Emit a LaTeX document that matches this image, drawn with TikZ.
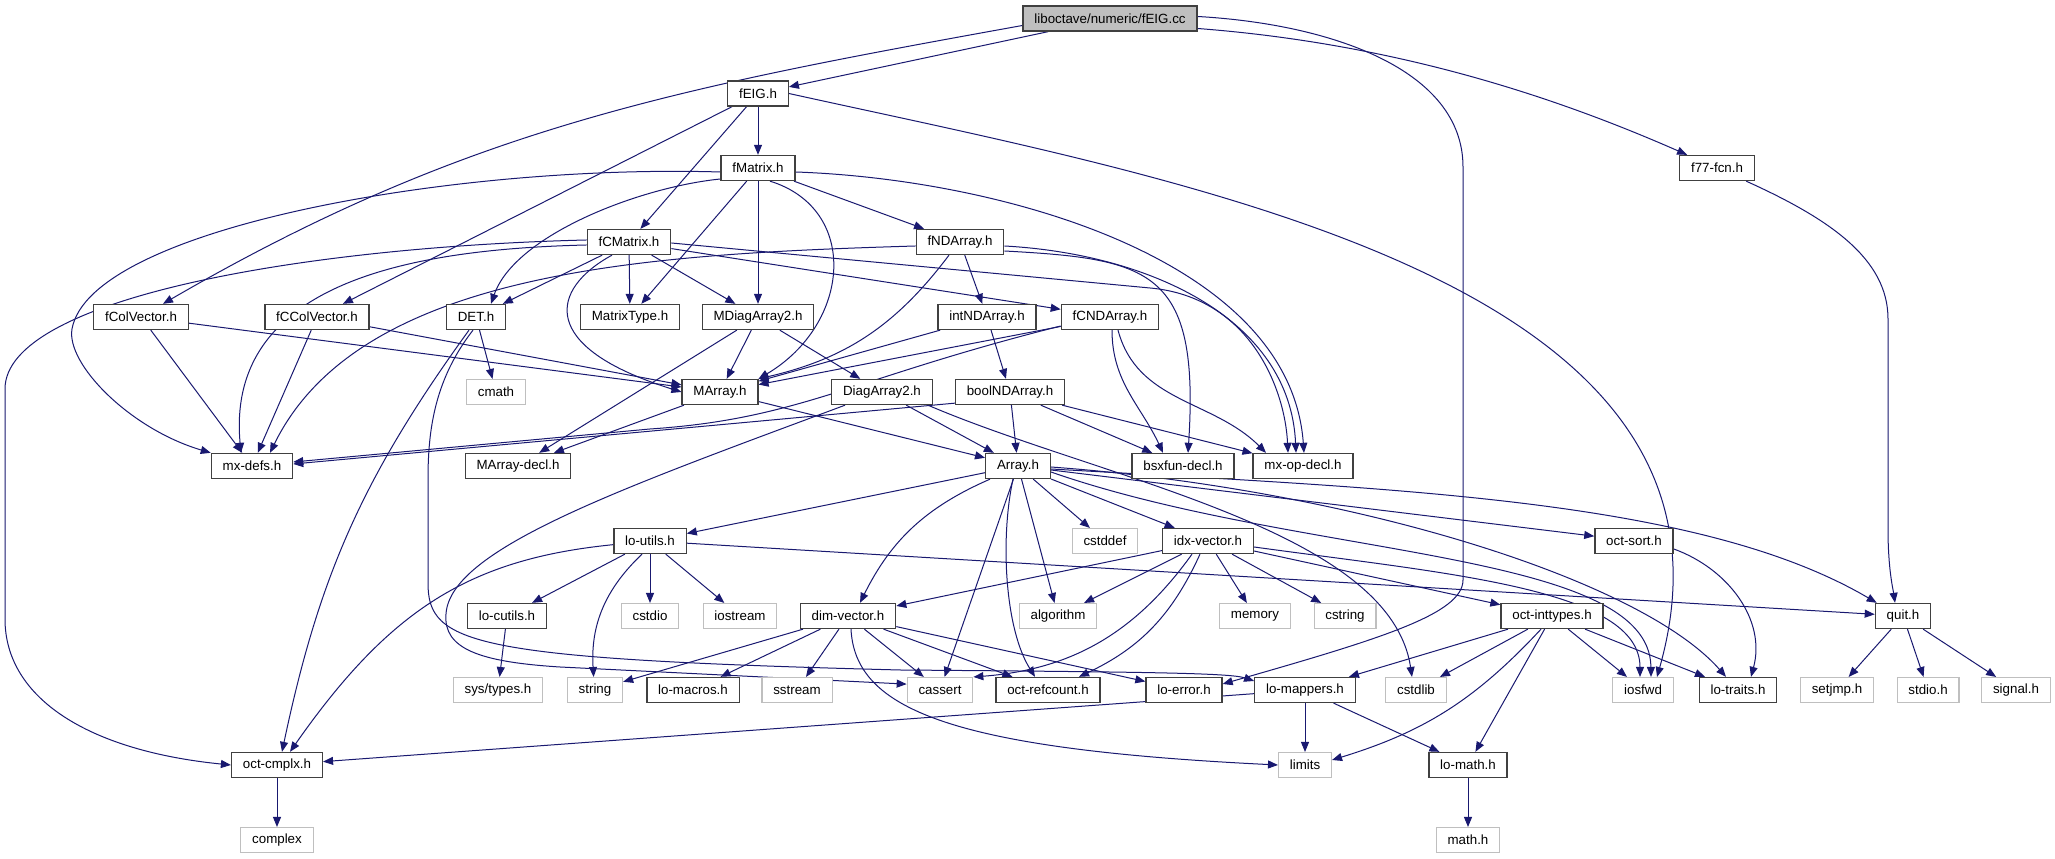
\documentclass[tikz,border=0pt]{standalone}
\usepackage{fontspec}
\setmainfont{Liberation Sans}
\usetikzlibrary{arrows.meta,backgrounds,calc}
\definecolor{edgeblue}{HTML}{191970}

\begin{document}
\begin{tikzpicture}[x=0.75pt,y=0.75pt,
  hdr/.style={draw=black!75,line width=1pt,fill=white,minimum height=18.75pt,inner xsep=8.5pt,inner ysep=0pt,font=\fontsize{10pt}{12pt}\selectfont},
  sys/.style={hdr,draw=black!25,line width=0.8pt},
  dep/.style={draw=edgeblue,line width=0.75pt,-{Triangle[length=7.5pt,width=6pt]}}]
\useasboundingbox (0,0) rectangle (2055,859);

\node[hdr,fill=black!25] (root) at (1110,840.5) {liboctave/numeric/fEIG.cc};
\node[hdr] (fEIG) at (758,765.5) {fEIG.h};
\node[hdr] (fMatrix) at (758,691) {fMatrix.h};
\node[hdr] (f77) at (1717,691) {f77-fcn.h};
\node[hdr] (fCMatrix) at (629,617) {fCMatrix.h};
\node[hdr] (fNDArray) at (960,617) {fNDArray.h};
\node[hdr] (fColVector) at (141,542) {fColVector.h};
\node[hdr] (fCColVector) at (317,542) {fCColVector.h};
\node[hdr] (DET) at (476,542) {DET.h};
\node[hdr] (MatrixType) at (630,542) {MatrixType.h};
\node[hdr] (MDiagArray2) at (758,542) {MDiagArray2.h};
\node[hdr] (intNDArray) at (987,542) {intNDArray.h};
\node[hdr] (fCNDArray) at (1110,542) {fCNDArray.h};
\node[sys] (cmath) at (496,467) {cmath};
\node[hdr] (MArray) at (720,467) {MArray.h};
\node[hdr] (DiagArray2) at (882,467) {DiagArray2.h};
\node[hdr] (boolNDArray) at (1010,467) {boolNDArray.h};
\node[hdr] (mxdefs) at (252,393) {mx-defs.h};
\node[hdr] (MArraydecl) at (518,393) {MArray-decl.h};
\node[hdr] (Array) at (1018,393) {Array.h};
\node[hdr] (bsxfun) at (1183,393) {bsxfun-decl.h};
\node[hdr] (mxopdecl) at (1303,393) {mx-op-decl.h};
\node[hdr] (loutils) at (650,318) {lo-utils.h};
\node[sys] (cstddef) at (1105,318) {cstddef};
\node[hdr] (idxvector) at (1208,318) {idx-vector.h};
\node[hdr] (octsort) at (1634,318) {oct-sort.h};
\node[hdr] (locutils) at (507,243) {lo-cutils.h};
\node[sys] (cstdio) at (650,243) {cstdio};
\node[sys] (iostream) at (740,243) {iostream};
\node[hdr] (dimvector) at (848,243) {dim-vector.h};
\node[sys] (algorithm) at (1058,243) {algorithm};
\node[sys] (memory) at (1255,243) {memory};
\node[sys] (cstring) at (1345,243) {cstring};
\node[hdr] (octinttypes) at (1552,243) {oct-inttypes.h};
\node[hdr] (quit) at (1903,243) {quit.h};
\node[sys] (systypes) at (498,169) {sys/types.h};
\node[sys] (string) at (595,169) {string};
\node[hdr] (lomacros) at (693,169) {lo-macros.h};
\node[sys] (sstream) at (797,169) {sstream};
\node[sys] (cassert) at (940,169) {cassert};
\node[hdr] (octrefcount) at (1048,169) {oct-refcount.h};
\node[hdr] (loerror) at (1184,169) {lo-error.h};
\node[hdr] (lomappers) at (1305,169) {lo-mappers.h};
\node[sys] (cstdlib) at (1416,169) {cstdlib};
\node[sys] (iosfwd) at (1643,169) {iosfwd};
\node[hdr] (lotraits) at (1738,169) {lo-traits.h};
\node[sys] (setjmp) at (1837,169) {setjmp.h};
\node[sys] (stdio) at (1928,169) {stdio.h};
\node[sys] (signal) at (2016,169) {signal.h};
\node[hdr] (octcmplx) at (277,94) {oct-cmplx.h};
\node[sys] (limits) at (1305,94) {limits};
\node[hdr] (lomath) at (1468,94) {lo-math.h};
\node[sys] (complex) at (277,19) {complex};
\node[sys] (mathh) at (1468,19) {math.h};

\begin{scope}[on background layer]
\fill[white] (0,0) rectangle (2055,859);
\draw[dep] (root) -- (fEIG);
\draw[dep] ($(root.west)+(0,-7)$) .. controls (676,771) and (466,731) .. ($(fColVector.north)+(22,0)$);
\draw[dep] ($(root.east)+(0,-10)$) .. controls (1400,815) and (1560,760) .. ($(f77.north west)+(8,0)$);
\draw[dep] ($(root.east)+(0,2)$) .. controls (1330,835) and (1463,790) .. (1463,692) -- (1463,279) .. controls (1463,245) and (1380,220) .. ($(loerror.east)+(0,6)$);
\draw[dep] (fEIG) -- (fMatrix);
\draw[dep] (fEIG) -- (fCMatrix);
\draw[dep] (fEIG) -- (fCColVector);
\draw[dep] (fEIG.east) .. controls (1190,677) and (1769,578) .. ($(iosfwd.north)+(14,0)$);
\draw[dep] (fMatrix) -- (fNDArray);
\draw[dep] (fMatrix) -- (MDiagArray2);
\draw[dep] ($(fMatrix.south)+(12,0)$) .. controls (860,650) and (851,535) .. (MArray.north east);
\draw[dep] ($(fMatrix.west)+(0,-11)$) .. controls (640,672) and (515,624) .. ($(DET.north)+(15,0)$);
\draw[dep] (fMatrix) -- (MatrixType);
\draw[dep] ($(fMatrix.west)+(0,-4)$) .. controls (450,695) and (90,630) .. (72,530) .. controls (66,495) and (130,430) .. (mxdefs.north west);
\draw[dep] ($(fMatrix.east)+(0,-4)$) .. controls (1000,680) and (1290,600) .. ($(mxopdecl.north)+(1,0)$);
\draw[dep] (fCMatrix) -- (DET);
\draw[dep] (fCMatrix) -- (MatrixType);
\draw[dep] (fCMatrix) -- (MDiagArray2);
\draw[dep] ($(fCMatrix.south)+(-17,0)$) .. controls (550,570) and (537,512) .. (MArray.west);
\draw[dep] ($(fCMatrix.west)+(0,-3)$) .. controls (420,610) and (225,580) .. ($(mxdefs.north)+(-11,0)$);
\draw[dep] ($(fCMatrix.west)+(0,2)$) .. controls (300,612) and (5,560) .. (5,470) -- (5,240) .. controls (5,160) and (90,108) .. (octcmplx.west);
\draw[dep] (fCMatrix) -- (fCNDArray);
\draw[dep] ($(fCMatrix.east)+(0,-1)$) -- (1150,571) .. controls (1250,562) and (1285,470) .. ($(mxopdecl.north)+(-15,0)$);
\draw[dep] ($(fNDArray.south)+(-11,0)$) to[bend left=20] (MArray.north east);
\draw[dep] (fNDArray) -- (intNDArray);
\draw[dep] ($(fNDArray.west)+(0,-4)$) .. controls (650,605) and (360,590) .. ($(mxdefs.north)+(18,0)$);
\draw[dep] ($(fNDArray.east)+(0,-9)$) .. controls (1150,600) and (1200,590) .. ($(bsxfun.north)+(5,0)$);
\draw[dep] ($(fNDArray.east)+(0,-4)$) .. controls (1150,605) and (1290,540) .. ($(mxopdecl.north)+(-7,0)$);
\draw[dep] (fColVector) -- (mxdefs);
\draw[dep] (fColVector) -- (MArray);
\draw[dep] (fCColVector) -- (mxdefs);
\draw[dep] (fCColVector) -- (MArray);
\draw[dep] (DET) -- (cmath);
\draw[dep] ($(DET.south)+(-7,0)$) to[bend right=12] ($(octcmplx.north)+(5,0)$);
\draw[dep] ($(DET.south)+(-3,0)$) .. controls (435,480) and (428,430) .. (428,380) -- (428,276) .. controls (428,215) and (470,200) .. (900,189) .. controls (1150,187) and (1230,186) .. ($(lomappers.west)+(0,9)$);
\draw[dep] (MDiagArray2) -- (MArray);
\draw[dep] (MDiagArray2) -- (DiagArray2);
\draw[dep] (MDiagArray2) -- (MArraydecl);
\draw[dep] (intNDArray) -- (MArray);
\draw[dep] (intNDArray) -- (boolNDArray);
\draw[dep] (fCNDArray) -- (MArray);
\draw[dep] ($(fCNDArray.west)+(0,-9)$) .. controls (850,480) and (800,440) .. (650,430) -- ($(mxdefs.east)+(0,4)$);
\draw[dep] ($(fCNDArray.south)+(2,0)$) to[out=-90,in=115] ($(bsxfun.north)+(-20,0)$);
\draw[dep] ($(fCNDArray.south)+(8,0)$) to[out=-75,in=135] ($(mxopdecl.north)+(-37,0)$);
\draw[dep] (boolNDArray) -- (Array);
\draw[dep] (boolNDArray) -- (bsxfun);
\draw[dep] (boolNDArray) -- (mxopdecl);
\draw[dep] ($(boolNDArray.south west)+(0,2)$) -- ($(mxdefs.east)+(0,2)$);
\draw[dep] (MArray) -- (Array);
\draw[dep] (MArray) -- (MArraydecl);
\draw[dep] (DiagArray2) -- (Array);
\draw[dep] ($(DiagArray2.south west)+(14,0)$) .. controls (620,370) and (450,310) .. (446,245) .. controls (443,210) and (480,197) .. (560,192) -- (cassert.170);
\draw[dep] ($(DiagArray2.south east)+(-5,0)$) .. controls (1100,380) and (1390,330) .. ($(cstdlib.north)+(-4,0)$);
\draw[dep] (Array) -- (loutils);
\draw[dep] ($(Array.south west)+(5,0)$) to[bend right=20] ($(dimvector.north)+(12,0)$);
\draw[dep] (Array) -- (cassert);
\draw[dep] ($(Array.south)+(-5,0)$) .. controls (1000,320) and (1005,230) .. ($(octrefcount.north)+(-13,0)$);
\draw[dep] (Array) -- (algorithm);
\draw[dep] (Array) -- (cstddef);
\draw[dep] (Array) -- (idxvector);
\draw[dep] (Array) -- (octsort);
\draw[dep] ($(Array.east)+(0,-3)$) .. controls (1400,370) and (1700,360) .. ($(quit.north west)+(2,0)$);
\draw[dep] ($(Array.east)+(0,-6)$) .. controls (1300,300) and (1650,310) .. ($(iosfwd.north)+(8,0)$);
\draw[dep] ($(Array.east)+(0,-1)$) .. controls (1350,370) and (1640,280) .. ($(lotraits.north)+(-12,0)$);
\draw[dep] (idxvector) -- (dimvector);
\draw[dep] (idxvector) -- (algorithm);
\draw[dep] ($(idxvector.south)+(-16,0)$) to[bend left=25] (cassert.north east);
\draw[dep] ($(idxvector.south)+(-8,0)$) to[bend left=20] ($(octrefcount.north)+(31,0)$);
\draw[dep] (idxvector) -- (memory);
\draw[dep] (idxvector) -- (cstring);
\draw[dep] ($(idxvector.east)+(0,-6)$) .. controls (1450,285) and (1640,270) .. ($(iosfwd.north)+(-3,0)$);
\draw[dep] (idxvector) -- (octinttypes);
\draw[dep] ($(octsort.east)+(0,-8)$) to[out=-20,in=75] ($(lotraits.north)+(13,0)$);
\draw[dep] (loutils) .. controls (470,300) and (390,250) .. ($(octcmplx.north)+(13,0)$);
\draw[dep] (loutils) -- (locutils);
\draw[dep] ($(loutils.south)+(-8,0)$) to[bend right=25] (string);
\draw[dep] (loutils) -- (cstdio);
\draw[dep] (loutils) -- (iostream);
\draw[dep] (loutils) -- (quit);
\draw[dep] (locutils) -- (systypes);
\draw[dep] (dimvector) -- (string);
\draw[dep] (dimvector) -- (lomacros);
\draw[dep] (dimvector) -- (sstream);
\draw[dep] (dimvector) -- (cassert);
\draw[dep] (dimvector) -- (octrefcount);
\draw[dep] (dimvector) -- (loerror);
\draw[dep] ($(dimvector.south)+(3,0)$) .. controls (855,150) and (950,110) .. (limits.west);
\draw[dep] (octinttypes) -- (lomappers);
\draw[dep] (octinttypes) -- (cstdlib);
\draw[dep] ($(octinttypes.south)+(-11,0)$) to[bend left=15] ($(limits.east)+(0,5)$);
\draw[dep] (octinttypes) -- (lomath);
\draw[dep] (octinttypes) -- (iosfwd);
\draw[dep] (octinttypes) -- (lotraits);
\draw[dep] (lomappers) -- (limits);
\draw[dep] (lomappers) -- (lomath);
\draw[dep] (lomappers) -- (octcmplx);
\draw[dep] (lomath) -- (mathh);
\draw[dep] (octcmplx) -- (complex);
\draw[dep] (f77) .. controls (1830,640) and (1888,600) .. (1888,540) -- (1888,330) .. controls (1888,290) and (1893,270) .. ($(quit.north)+(-8,0)$);
\draw[dep] (quit) -- (setjmp);
\draw[dep] (quit) -- (stdio);
\draw[dep] (quit) -- (signal);
\end{scope}
\end{tikzpicture}
\end{document}
